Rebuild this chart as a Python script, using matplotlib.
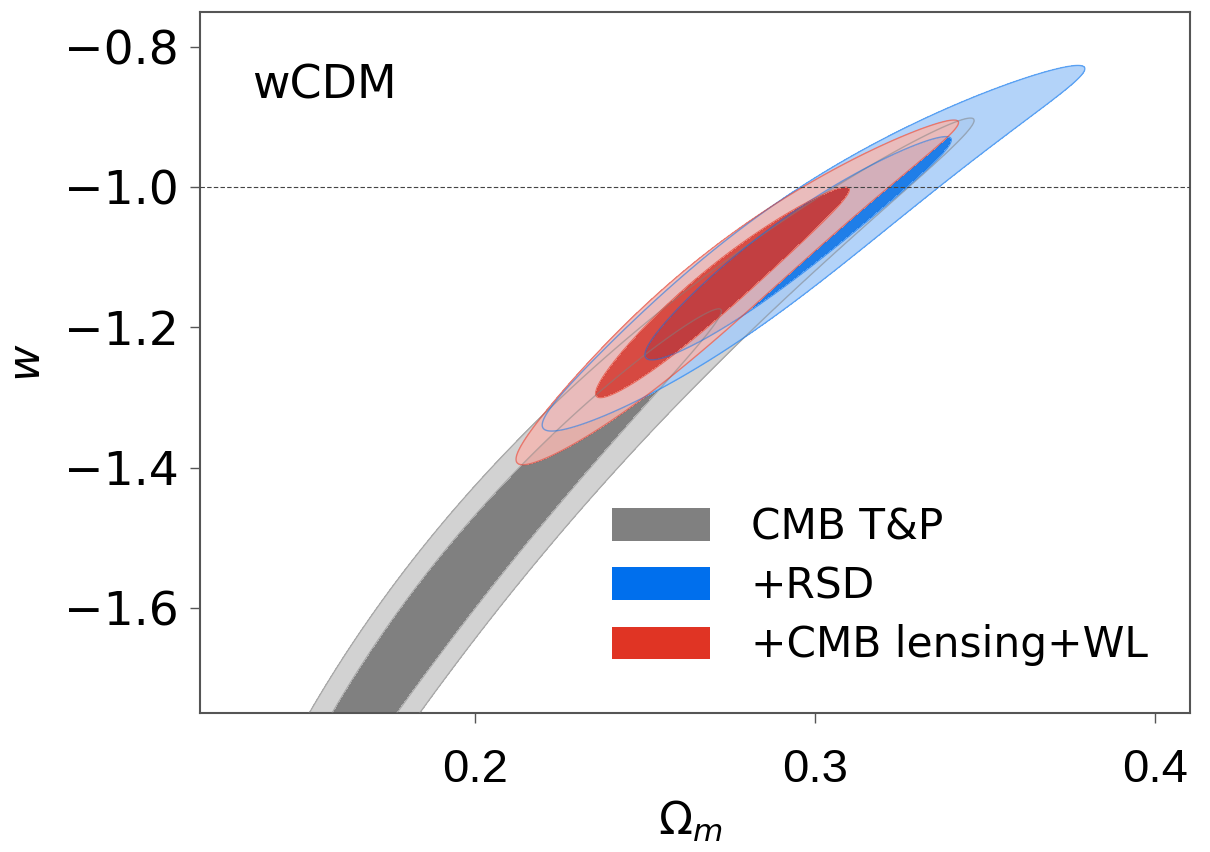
import numpy as np
import matplotlib
matplotlib.use("Agg")
import matplotlib.pyplot as plt
from matplotlib.patches import Patch

# contour shapes: centre line of each banana (Omega_m at given w),
# width across it, and where it peaks along w
gray_w = [-1.75, -1.56, -1.40, -1.20, -1.10, -0.90]
gray_om = [0.168, 0.193, 0.226, 0.2654, 0.2885, 0.3465]
gray_sig = [0.0069, 0.0070, 0.0078, 0.0085, 0.0085, 0.0085]
gray_peak, gray_spread = -1.60, 0.2813

blue_w = [-1.348, -1.20, -1.10, -1.00, -0.826]
blue_om = [0.2224, 0.264, 0.289, 0.316, 0.3774]
blue_sig = [0.0087, 0.0087, 0.0087, 0.0087, 0.0087]
blue_peak, blue_spread = -1.087, 0.105

red_w = [-1.384, -1.20, -1.10, -1.00, -0.893]
red_om = [0.217, 0.259, 0.282, 0.309, 0.345]
red_sig = [0.0064, 0.0066, 0.0064, 0.0064, 0.0064]
red_peak, red_spread = -1.15, 0.099

labels = ["CMB T&P", "+RSD", "+CMB lensing+WL"]
dark = ["#808080", "#006FED", "#E03424"]
light = ["#d2d2d2", "#a6ccf8", "#f4b8b2"]

xticks = [0.2, 0.3, 0.4]
yticks = [-0.8, -1.0, -1.2, -1.4, -1.6]

# 1 and 2 sigma for two parameters
levels = [0, 2.30, 6.17]

om = np.linspace(0.10, 0.43, 900)
w = np.linspace(-1.80, -0.70, 900)
OM, W = np.meshgrid(om, w)


def chi2(wn, omn, sn, peak, spread):
    # smooth centre line and width through the read-off nodes
    c = np.polyval(np.polyfit(wn, omn, 3), W)
    s = np.polyval(np.polyfit(wn, sn, 2), W)
    return ((OM - c) / s) ** 2 + ((W - peak) / spread) ** 2


surfaces = [chi2(gray_w, gray_om, gray_sig, gray_peak, gray_spread),
            chi2(blue_w, blue_om, blue_sig, blue_peak, blue_spread),
            chi2(red_w, red_om, red_sig, red_peak, red_spread)]
alphas = [1.0, 0.85, 0.85]

fig = plt.figure(figsize=(12.1, 8.52), dpi=100)
ax = fig.add_axes([200 / 1210, 139 / 852, 990 / 1210, 701 / 852])

for i, z in enumerate(surfaces):
    ax.contourf(OM, W, z, levels=levels, colors=[dark[i], light[i]],
                alpha=alphas[i], zorder=1 + i)
for i, z in enumerate(surfaces):
    ax.contour(OM, W, z, levels=levels[1:], colors=dark[i], linewidths=1.0,
               alpha=0.5, zorder=5)

ax.axhline(-1.0, color="#444444", lw=0.8, ls=(0, (4, 2)), zorder=6)

ax.set_xlim(0.119, 0.4103)
ax.set_ylim(-1.75, -0.75)
ax.set_xticks(xticks)
ax.set_yticks(yticks)
ax.set_xticklabels([f"{t:.1f}" for t in xticks], family="Liberation Sans", fontsize=34)
ax.set_yticklabels([f"\u2212{abs(t):.1f}" for t in yticks], family="DejaVu Sans", fontsize=34)
ax.tick_params(axis="x", direction="out", length=7, width=1, color="#555555", pad=18)
ax.tick_params(axis="y", direction="out", length=7, width=1, color="#555555", pad=8)
for sp in ax.spines.values():
    sp.set_color("#555555")
    sp.set_linewidth(1.5)

ax.set_xlabel(r"$\Omega_m$", fontsize=32)
ax.set_ylabel(r"$w$", fontsize=32)
ax.xaxis.set_label_coords(0.495, -0.122)
ax.yaxis.set_label_coords(-0.153, 0.5)

ax.text(0.0525, 0.877, "wCDM", transform=ax.transAxes, fontsize=33,
        family="DejaVu Sans", va="baseline", ha="left")

handles = [Patch(facecolor=c, edgecolor="none") for c in dark]
ax.legend(handles, labels, loc="upper left", bbox_to_anchor=(612 / 1210, 0.4058),
          bbox_transform=fig.transFigure, frameon=False, fontsize=30.4,
          handlelength=2.32, handleheight=0.81, handletextpad=0.97,
          labelspacing=0.405, borderpad=0, borderaxespad=0)

fig.savefig("out.png", dpi=100)
